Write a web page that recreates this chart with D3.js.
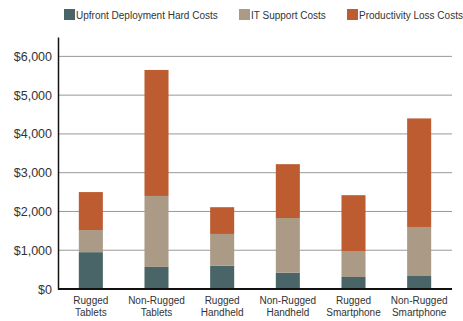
<!DOCTYPE html>
<html>
<head>
<meta charset="utf-8">
<script src="https://cdn.jsdelivr.net/npm/d3@7"></script>
<style>
body { margin:0; background:#fff; }
text { font-family: "Liberation Sans", Arial, sans-serif; fill:#333; }
</style>
</head>
<body>
<svg></svg>
<script>
// cost per device

var categories = [["Rugged","Tablets"],["Non-Rugged","Tablets"],["Rugged","Handheld"],
                  ["Non-Rugged","Handheld"],["Rugged","Smartphone"],["Non-Rugged","Smartphone"]]
var seriesNames = ["Upfront Deployment Hard Costs","IT Support Costs","Productivity Loss Costs"]
var upfront = [950, 570, 600, 420, 310, 335]
var itSupport = [570, 1830, 820, 1410, 670, 1265]
var productivity = [980, 3250, 690, 1390, 1440, 2800]
var yTicks = [0,1000,2000,3000,4000,5000,6000]

var colors = ["#4a6568","#aa9a86","#bc5c30"]

var screen = {width:463,height:321}
var margins = {top:37,right:11,left:58,bottom:32}

var width = screen.width - margins.left - margins.right
var height = screen.height - margins.top - margins.bottom

var svg = d3.select("svg")
    .attr("width",screen.width)
    .attr("height",screen.height)

var g = svg.append("g")
    .attr("transform","translate("+margins.left+","+margins.top+")")

var rows = categories.map(function(c,i){
    return {key:i, up:upfront[i], it:itSupport[i], prod:productivity[i]}
})

var stack = d3.stack().keys(["up","it","prod"])
var layers = stack(rows)

var xScale = d3.scaleBand()
    .domain(d3.range(categories.length))
    .range([0,width])
    .paddingInner(0.634)
    .paddingOuter(0.317)

var yScale = d3.scaleLinear()
    .domain([0,6500])
    .range([height,0])

// gridlines
g.selectAll(".grid")
    .data(yTicks.slice(1))
    .enter()
    .append("line")
    .attr("x1",0)
    .attr("x2",width)
    .attr("y1",function(d){return yScale(d)})
    .attr("y2",function(d){return yScale(d)})
    .attr("stroke","#999")
    .attr("stroke-width",1)

// bars
g.selectAll(".layer")
    .data(layers)
    .enter()
    .append("g")
    .attr("fill",function(d,i){return colors[i]})
    .selectAll("rect")
    .data(function(d){return d})
    .enter()
    .append("rect")
    .attr("x",function(d,i){return xScale(i)})
    .attr("width",xScale.bandwidth())
    .attr("y",function(d){return yScale(d[1])})
    .attr("height",function(d){return yScale(d[0]) - yScale(d[1])})

// y axis
var yAxis = d3.axisLeft(yScale)
    .tickValues(yTicks)
    .tickSize(0)
    .tickPadding(6)
    .tickFormat(function(d){return "$" + d3.format(",")(d)})

var ya = g.append("g").call(yAxis)
ya.select(".domain").attr("stroke","#111").attr("stroke-width",1.5)
ya.selectAll("text").style("font-size","12.5px").attr("fill","#333")

// baseline
g.append("line")
    .attr("x1",0).attr("x2",width)
    .attr("y1",height).attr("y2",height)
    .attr("stroke","#111").attr("stroke-width",2)

// x labels
var xl = g.selectAll(".xlab")
    .data(categories)
    .enter()
    .append("text")
    .attr("text-anchor","middle")
    .attr("transform",function(d,i){return "translate("+(xScale(i)+xScale.bandwidth()/2)+","+(height+15)+")"})
    .style("font-size","10px")

xl.selectAll("tspan")
    .data(function(d){return d})
    .enter()
    .append("tspan")
    .attr("x",0)
    .attr("dy",function(d,i){return i==0 ? 0 : 12})
    .text(function(d){return d})

// legend
var legendX = [64,239,347]
var leg = svg.selectAll(".leg")
    .data(seriesNames)
    .enter()
    .append("g")
    .attr("transform",function(d,i){return "translate("+legendX[i]+",9)"})

leg.append("rect")
    .attr("width",11).attr("height",11)
    .attr("fill",function(d,i){return colors[i]})

leg.append("text")
    .attr("x",12)
    .attr("y",9.5)
    .style("font-size","10px")
    .text(function(d){return d})
</script>
</body>
</html>
